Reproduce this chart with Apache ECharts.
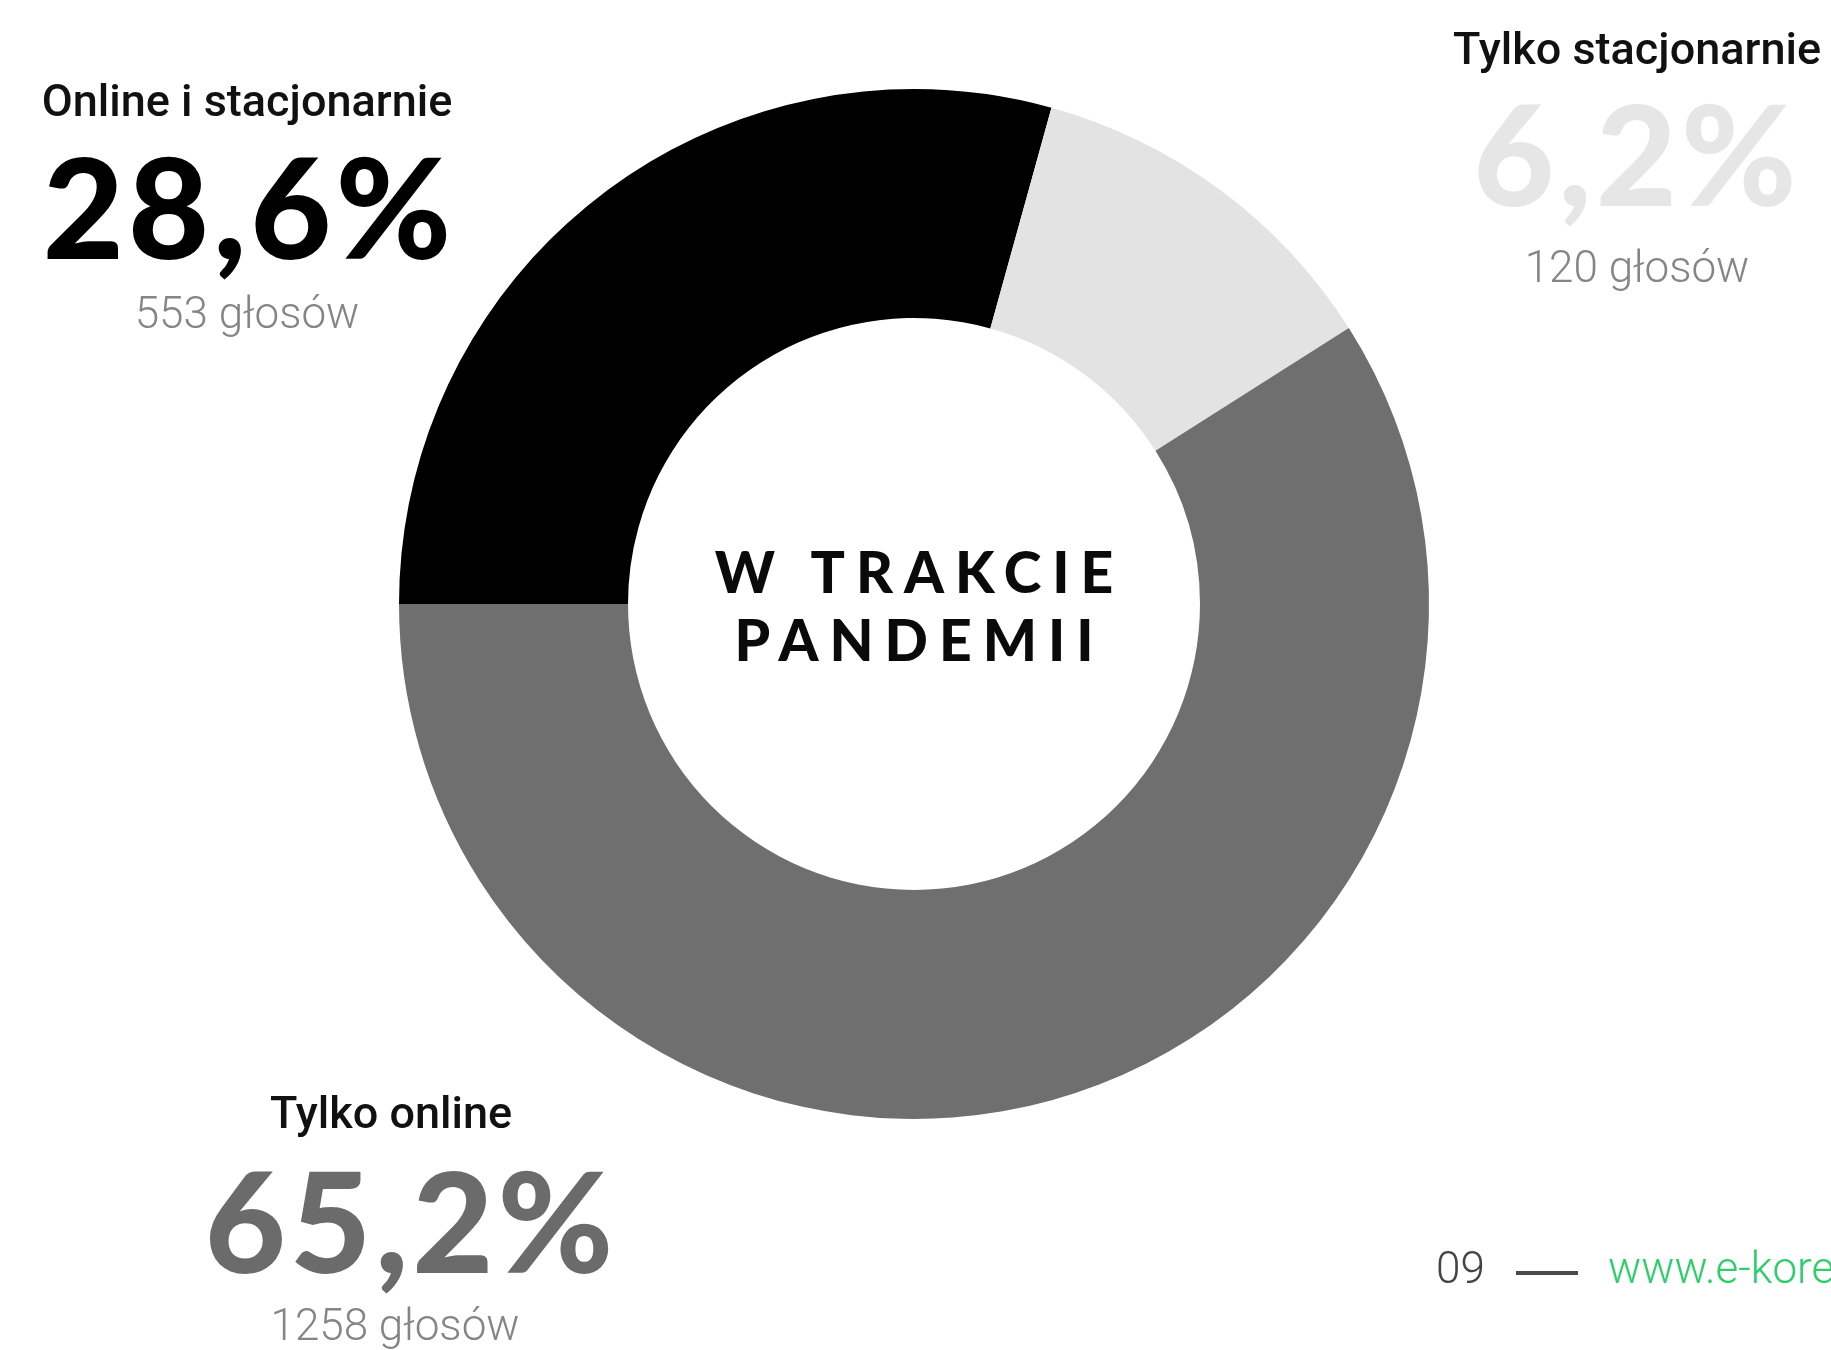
<!DOCTYPE html>
<html>
<head>
<meta charset="utf-8">
<script src="https://cdn.jsdelivr.net/npm/echarts@6/dist/echarts.min.js"></script>
<style>
html,body{margin:0;padding:0;background:#fff;overflow:hidden;}
#chart{width:1831px;height:1350px;}
</style>
</head>
<body>
<div id="chart"></div>
<script>
// ---- data ----
const categories = ['Online i stacjonarnie', 'Tylko stacjonarnie', 'Tylko online'];
const percentLabels = ['28,6%', '6,2%', '65,2%'];
const votes = [553, 120, 1258];
// share of the ring as the slices are drawn in the picture
const sliceShares = [29.3, 11.7, 59.0];
const sliceColors = ['#000000', '#e3e3e3', '#6f6f6f'];
const centerLines = ['W TRAKCIE', 'PANDEMII'];
const footerPage = '09';
const footerUrl = 'www.e-korepetycje.net';

// letter spacing for selected texts (canvas feature), isolated with save/restore
const spacingFor = {};
centerLines.forEach(function (t) { spacingFor[t] = 11; });
percentLabels.forEach(function (t) { spacingFor[t] = 4; });
(function () {
  const orig = CanvasRenderingContext2D.prototype.fillText;
  CanvasRenderingContext2D.prototype.fillText = function (t, x, y, m) {
    const sp = spacingFor[t];
    if (sp && 'letterSpacing' in this) {
      this.save();
      this.letterSpacing = sp + 'px';
      const dx = this.textAlign === 'center' ? sp / 2 : 0;
      if (m === undefined) orig.call(this, t, x + dx, y); else orig.call(this, t, x + dx, y, m);
      this.restore();
      return;
    }
    return orig.apply(this, arguments);
  };
})();

const chart = echarts.init(document.getElementById('chart'), null, { renderer: 'canvas' });

const labelLayout = [
  { cx: 247, cxPct: 247, yCat: 105, yPct: 214, yVotes: 317, pctColor: '#000000' },
  { cx: 1637, cxPct: 1635, yCat: 53, yPct: 161, yVotes: 271, pctColor: '#e6e6e6' },
  { cx: 391, cxPct: 409, yCat: 1117, yPct: 1228, yVotes: 1329, pctColor: '#6b6b6b' }
];

function txt(text, x, y, font, fill, align) {
  return {
    type: 'text', x: x, y: y, silent: true,
    style: { text: text, font: font, fill: fill, align: align || 'center', verticalAlign: 'middle',
             textAlign: align || 'center', textVerticalAlign: 'middle' }
  };
}

const graphics = [];
categories.forEach(function (c, i) {
  const L = labelLayout[i];
  graphics.push(txt(c, L.cx, L.yCat, '500 45px Roboto', '#111111'));
  graphics.push(txt(percentLabels[i], L.cxPct, L.yPct, '900 140px Lato', L.pctColor));
  graphics.push(txt(votes[i] + ' głosów', i === 2 ? L.cx + 4 : L.cx, L.yVotes, '300 44px Roboto', '#858585'));
});
graphics.push(txt(centerLines[0], 914, 575, '900 57px Lato', '#0a0a0a'));
graphics.push(txt(centerLines[1], 914, 643, '900 57px Lato', '#0a0a0a'));
graphics.push(txt(footerPage, 1436, 1272, '300 44px Roboto', '#444444', 'left'));
graphics.push({ type: 'line', silent: true, shape: { x1: 1516, y1: 1273, x2: 1578, y2: 1273 },
  style: { stroke: '#4a4a4a', lineWidth: 4 } });
graphics.push(txt(footerUrl, 1608, 1272, '300 44px Roboto', '#2ecf6b', 'left'));

chart.setOption({
  backgroundColor: '#ffffff',
  animation: false,
  series: [{
    type: 'pie',
    center: [914, 604],
    radius: [286, 515],
    startAngle: 180,
    clockwise: true,
    silent: true,
    label: { show: false },
    labelLine: { show: false },
    emphasis: { disabled: true },
    itemStyle: { borderWidth: 0 },
    data: categories.map(function (c, i) {
      return { name: c, value: sliceShares[i], itemStyle: { color: sliceColors[i] } };
    })
  }],
  graphic: graphics
});
</script>
</body>
</html>
